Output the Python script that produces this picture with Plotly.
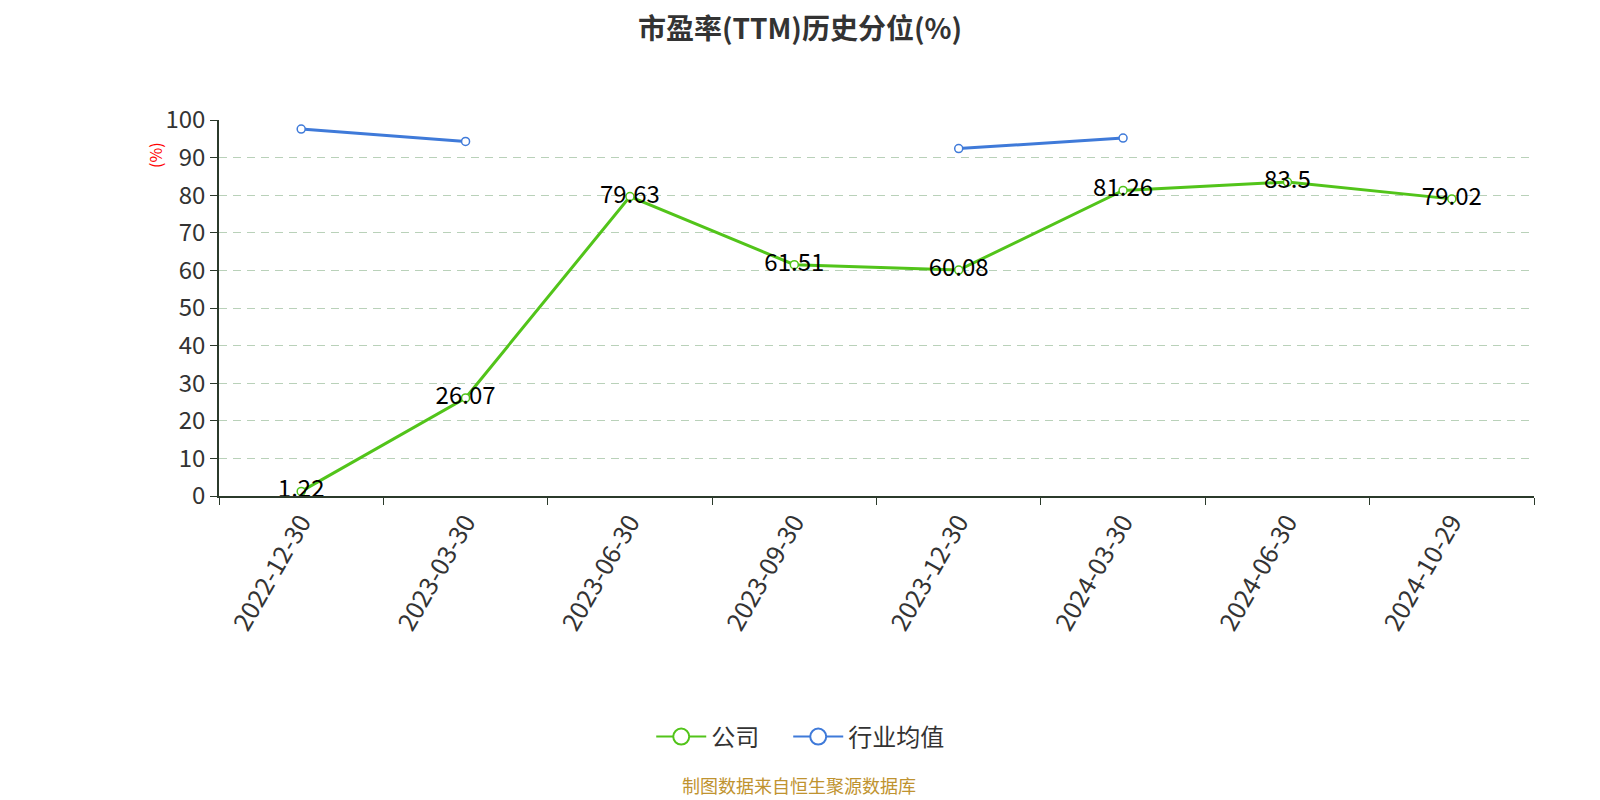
import plotly.graph_objects as go

# report dates on the category axis
dates = ['2022-12-30', '2023-03-30', '2023-06-30', '2023-09-30',
         '2023-12-30', '2024-03-30', '2024-06-30', '2024-10-29']

# company PE(TTM) percentile
company = [1.22, 26.07, 79.63, 61.51, 60.08, 81.26, 83.5, 79.02]

# industry average, missing where no value was drawn
industry = [97.6, 94.3, None, None, 92.4, 95.2, None, None]

FONT = 'Noto Sans CJK SC'
GREEN = '#52c41a'
BLUE = '#3f7ad9'

fig = go.Figure()

fig.add_trace(go.Scatter(x=dates, y=company, name='公司',
                         mode='lines+markers+text', showlegend=False,
                         text=[str(v) for v in company],
                         textposition='middle center',
                         textfont=dict(size=24, color='#000000', family=FONT),
                         line=dict(color=GREEN, width=3),
                         marker=dict(symbol='circle', size=8, color='white',
                                     line=dict(color=GREEN, width=1.5))))

fig.add_trace(go.Scatter(x=dates, y=industry, name='行业均值',
                         mode='lines+markers', showlegend=False,
                         connectgaps=False,
                         line=dict(color=BLUE, width=3),
                         marker=dict(symbol='circle', size=8, color='white',
                                     line=dict(color=BLUE, width=1.5))))

# legend entries only, with the bigger hollow circles of the reference legend
for name, color in [('公司\u2003', GREEN), ('行业均值', BLUE)]:
    fig.add_trace(go.Scatter(x=[dates[0]], y=[None], name=name,
                             mode='lines+markers', hoverinfo='skip',
                             line=dict(color=color, width=2),
                             marker=dict(symbol='circle', size=16, color='white',
                                         line=dict(color=color, width=2))))

# page body adds an 8px margin, so the figure is shifted by 8px
fig.update_layout(
    width=1584, height=792,
    paper_bgcolor='white', plot_bgcolor='white',
    margin=dict(l=211, r=58, t=112, b=304),
    font=dict(family=FONT, color='#333333'),
    title=dict(text='<b>市盈率(TTM)历史分位(%)</b>', x=0.5, xanchor='center',
               y=1 - 21 / 792, yanchor='middle',
               font=dict(size=28, color='#333333', family=FONT)),
    showlegend=True,
    legend=dict(orientation='h', x=0.442, xanchor='center', y=-0.641, yanchor='middle',
                font=dict(size=24, color='#333333', family=FONT),
                itemwidth=50),
)

fig.update_xaxes(type='category', range=[-0.5, 7.5],
                 tickson='boundaries', ticks='outside', ticklen=7,
                 tickcolor='#2b3a2b', showline=True, linecolor='#2b3a2b',
                 linewidth=1.5, showgrid=False, tickangle=-60,
                 tickfont=dict(size=25, color='#333333', family=FONT))

fig.update_yaxes(range=[0, 100], dtick=10, ticks='outside', ticklen=7,
                 tickcolor='#2b3a2b', showline=True, linecolor='#2b3a2b',
                 linewidth=1.5, showgrid=True, gridcolor='#b9d1b9',
                 griddash='8px,6px', gridwidth=1, zeroline=False,
                 tickfont=dict(size=24, color='#333333', family=FONT))

fig.add_annotation(text='(%)', textangle=-90, xref='paper', yref='paper',
                   x=-0.0487, y=0.907, xanchor='center', yanchor='middle',
                   showarrow=False,
                   font=dict(size=16, color='red', family=FONT))

fig.add_annotation(text='制图数据来自恒生聚源数据库', xref='paper', yref='paper',
                   x=0.441, y=-0.7686, xanchor='center', yanchor='middle',
                   showarrow=False,
                   font=dict(size=18, color='#bf9330', family=FONT))

fig.write_html('out.html')
